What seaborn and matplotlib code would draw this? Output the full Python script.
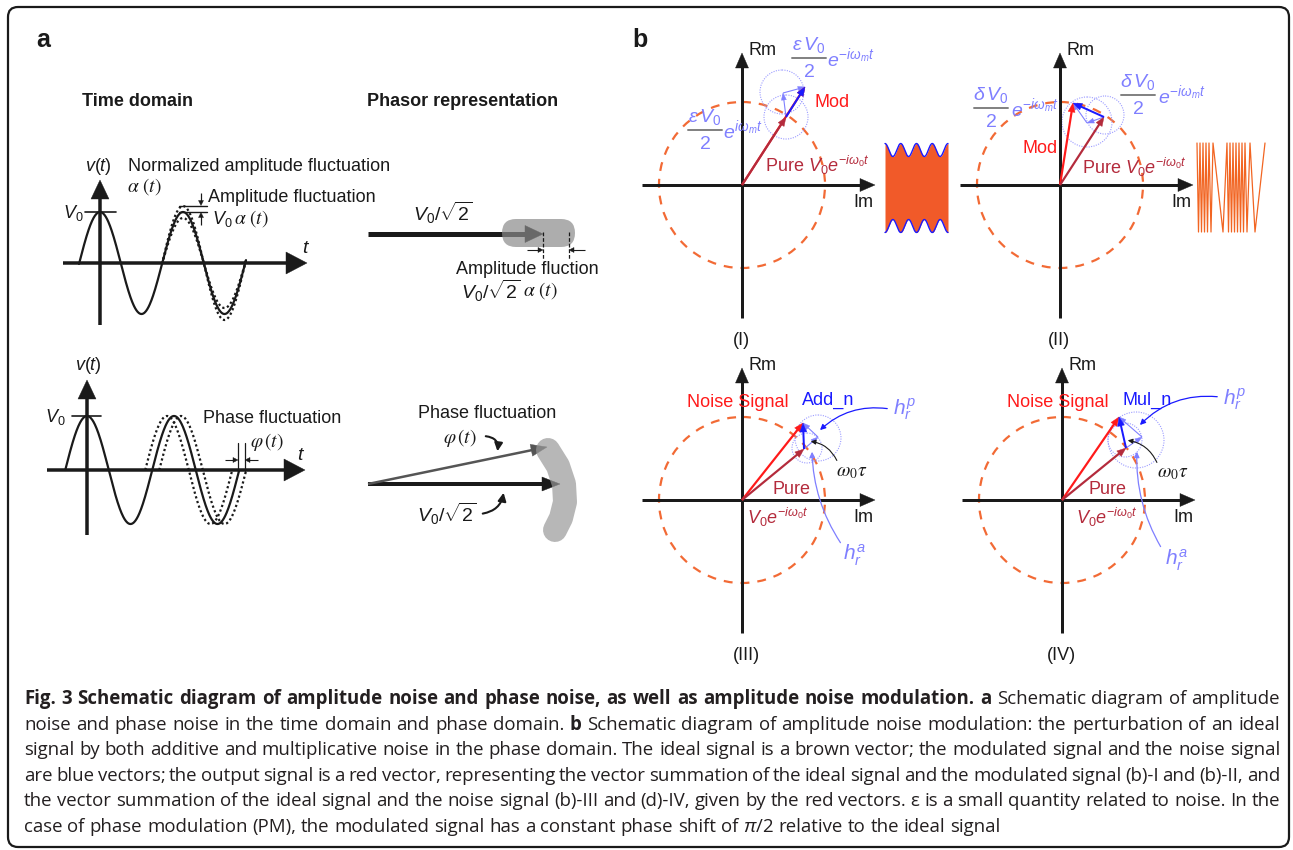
import numpy as np
import matplotlib
matplotlib.use("Agg")
import matplotlib.pyplot as plt
import seaborn as sns
from matplotlib.patches import Circle, Polygon, FancyBboxPatch, FancyArrowPatch

sns.set_theme(style="white")
plt.rcParams["font.family"] = ["Liberation Sans", "DejaVu Sans"]
plt.rcParams["mathtext.fontset"] = "custom"
plt.rcParams["mathtext.rm"] = "Liberation Sans"
plt.rcParams["mathtext.it"] = "Liberation Sans:italic"
plt.rcParams["mathtext.bf"] = "Liberation Sans:bold"

# ---------------- data (schematic, pixel units of the drawing) ----------------
# time-domain waves: [peak x, period, baseline y, amplitude]
wave_amp_params = [100, 83, 263, 51]
wave_amp_range = [79, 246]
wave_amp_dotted_amps = [57, 45]
wave_amp_dotted_range = [162, 246]
wave_phase_params = [87, 87, 470, 54]
wave_phase_range = [65.25, 239.25]
wave_phase_dotted_shifts = [-7, 7]

# phasor diagrams (b): origins and vectors (dx, dy; y up)
phasor_origins = [(742, 185), (1060, 185), (742, 500), (1062, 500)]
circle_radius = 83
pure_vectors = [(44, 68), (44, 68), (62, 51), (64, 52)]
output_vectors = [(63, 98), (13, 82), (61, 77), (57, 83)]
helper_points = [(41, 92), (27, 62), (76, 63), (80, 63)]
dotted_circles = [
    [((44, 68), 22), ((40, 93), 22)],
    [((27, 63), 25), ((45, 70), 19)],
    [((65, 52), 15), ((76, 62), 23)],
    [((63, 60), 17), ((74, 60), 28)],
]
panel_labels = ["(I)", "(II)", "(III)", "(IV)"]

# inset signals
am_wave = [885, 948, 15.75, 6.5, 150, 226]   # x0, x1, period, amp, top y, bottom y
fm_turns = [1197, 1198.5, 1200, 1201.5, 1203, 1204.5, 1206, 1207.5, 1209, 1211, 1213,
            1223, 1227, 1228.5, 1230, 1231.5, 1233, 1234.5, 1236, 1237.5, 1239,
            1240.5, 1242, 1243.5, 1245, 1247, 1250, 1255, 1265]
fm_y = [143, 232]

caption_lines = [
    [("Fig. 3 Schematic diagram of amplitude noise and phase noise, as well as amplitude noise modulation. a", True),
     ("Schematic diagram of amplitude", False)],
    [("noise and phase noise in the time domain and phase domain.", False), ("b", True),
     ("Schematic diagram of amplitude noise modulation: the perturbation of an ideal", False)],
    [("signal by both additive and multiplicative noise in the phase domain. The ideal signal is a brown vector; the modulated signal and the noise signal", False)],
    [("are blue vectors; the output signal is a red vector, representing the vector summation of the ideal signal and the modulated signal (b)-I and (b)-II, and", False)],
    [("the vector summation of the ideal signal and the noise signal (b)-III and (d)-IV, given by the red vectors. \u03b5 is a small quantity related to noise. In the", False)],
    [("case of phase modulation (PM), the modulated signal has a constant phase shift of $\\pi$/2 relative to the ideal signal", False)],
]

# ---------------- colours ----------------
BROWN = "#B42B3C"
RED = "#FF1A1A"
BLUE = "#1A1AFF"
LBLUE = "#7F7FFF"
ORANGE = "#F26A35"
FILL = "#F15A29"

fig = plt.figure(figsize=(12.93, 8.5), dpi=100)
ax = fig.add_axes([0, 0, 1, 1])
ax.set_xlim(0, 1293)
ax.set_ylim(850, 0)
ax.set_axis_off()

PT = 0.72  # points per pixel


def arrow(x0, y0, x1, y1, color="k", lw=3, hl=14, hw=12, z=3, alpha=1):
    dx, dy = x1 - x0, y1 - y0
    L = np.hypot(dx, dy)
    ux, uy = dx / L, dy / L
    bx, by = x1 - ux * hl, y1 - uy * hl
    ax.plot([x0, bx + ux * 1.5], [y0, by + uy * 1.5], color=color, lw=lw * PT,
            solid_capstyle="butt", zorder=z, alpha=alpha)
    px, py = -uy, ux
    ax.add_patch(Polygon([[x1, y1], [bx + px * hw / 2, by + py * hw / 2],
                          [bx - px * hw / 2, by - py * hw / 2]], closed=True,
                         fc=color, ec=color, lw=0.3, zorder=z, alpha=alpha))


def curved(x0, y0, x1, y1, color, rad, lw=1.0, ms=10):
    ax.add_patch(FancyArrowPatch((x0, y0), (x1, y1), connectionstyle=f"arc3,rad={rad}",
                                 arrowstyle="-|>", mutation_scale=ms, lw=lw, color=color,
                                 zorder=4))


def txt(x, y, s, size=13, ha="left", color="k", **kw):
    ax.text(x, y, s, fontsize=size, ha=ha, va="center", color=color, **kw)


def wave(params, x0, x1, amp=None, shift=0.0):
    peak, period, base, a = params
    a = a if amp is None else amp
    x = np.linspace(x0, x1, 400)
    y = base - a * np.cos(2 * np.pi * (x - peak - shift) / period)
    return x, y


# ---------------- border ----------------
ax.add_patch(FancyBboxPatch((8, 7), 1281, 840, boxstyle="round,pad=0,rounding_size=10",
                            fc="none", ec="k", lw=1.6, zorder=1))

# ---------------- panel a ----------------
txt(36, 40, "a", size=18, fontweight="bold")
txt(137, 101, "Time domain", ha="center", fontweight="bold")
txt(463, 101, "Phasor representation", ha="center", fontweight="bold")

# top time-domain plot
arrow(100, 325, 100, 180, lw=3.5, hl=19, hw=18)
arrow(63, 263, 307, 263, lw=3.5, hl=21, hw=22)
x, y = wave(wave_amp_params, *wave_amp_range)
sns.lineplot(x=x, y=y, ax=ax, color="k", lw=1.6, zorder=4)
for a_ in wave_amp_dotted_amps:
    x, y = wave(wave_amp_params, *wave_amp_dotted_range, amp=a_)
    sns.lineplot(x=x, y=y, ax=ax, color="k", lw=1.6, linestyle=(0, (1, 1.2)), zorder=4)
ax.plot([85, 116], [212, 212], color="k", lw=1.2)
txt(84, 213, r"$V_0$", ha="right")
txt(98, 166, r"$v(t)$", ha="center")
txt(128, 166, "Normalized amplitude fluctuation")
txt(127, 187, r"$\alpha\ (t)$", math_fontfamily="stix", size=14)
ax.plot([179, 207], [206, 206], color="k", lw=1)
ax.plot([179, 207], [212, 212], color="k", lw=1)
arrow(201, 193, 201, 205.5, lw=1.2, hl=5, hw=5)
arrow(201, 225, 201, 212.5, lw=1.2, hl=5, hw=5)
txt(208, 197, "Amplitude fluctuation")
txt(212, 219, r"$V_0$")
txt(234, 219, r"$\alpha\ (t)$", math_fontfamily="stix", size=14)
txt(302, 248, r"$t$", size=14)

# bottom time-domain plot
arrow(87, 535, 87, 380, lw=3.5, hl=19, hw=18)
arrow(47, 470, 305, 470, lw=3.5, hl=21, hw=22)
x, y = wave(wave_phase_params, *wave_phase_range)
sns.lineplot(x=x, y=y, ax=ax, color="k", lw=1.6, zorder=4)
for s_ in wave_phase_dotted_shifts:
    x, y = wave(wave_phase_params, 152.25 + s_, 239.25 + s_, shift=s_)
    sns.lineplot(x=x, y=y, ax=ax, color="k", lw=1.6, linestyle=(0, (1, 1.2)), zorder=4)
ax.plot([72, 101], [416, 416], color="k", lw=1.2)
txt(66, 417, r"$V_0$", ha="right")
txt(88, 365, r"$v(t)$", ha="center")
txt(203, 418, "Phase fluctuation")
txt(250, 442, r"$\varphi\,(t)$", math_fontfamily="stix", size=14)
ax.plot([238, 238], [443, 472], color="k", lw=0.9)
ax.plot([245, 245], [443, 472], color="k", lw=0.9)
arrow(225, 460, 238, 460, lw=1.1, hl=5, hw=5)
arrow(258, 460, 245, 460, lw=1.1, hl=5, hw=5)
txt(297, 455, r"$t$", size=14)

# top phasor
arrow(368, 234, 543, 234, lw=5, hl=18, hw=17)
ax.add_patch(FancyBboxPatch((502, 219), 73, 28, boxstyle="round,pad=0,rounding_size=14",
                            fc="#8A8A8A", ec="none", alpha=0.7, zorder=5))
ax.plot([543, 543], [232, 260], color="k", lw=0.9, ls=(0, (3, 1.5)), zorder=6)
ax.plot([569, 569], [232, 260], color="k", lw=0.9, ls=(0, (3, 1.5)), zorder=6)
arrow(527, 250, 543, 250, lw=1.1, hl=5, hw=5)
arrow(585, 250, 569, 250, lw=1.1, hl=5, hw=5)
txt(443, 213, r"$V_0/\sqrt{2}$", ha="center", size=14)
txt(527, 270, "Amplitude fluction", ha="center")
txt(521, 291, r"$V_0/\sqrt{2}$", ha="right", size=14)
txt(523, 291, r"$\alpha\ (t)$", math_fontfamily="stix", size=14)

# bottom phasor
txt(487, 413, "Phase fluctuation", ha="center")
arrow(368, 484, 560, 484, lw=4, hl=18, hw=14)
arrow(368, 484, 547, 447, color="#555555", lw=2.5, hl=16, hw=12)
bx_ = [548, 558, 564, 565, 561, 555]
by_ = [450, 466, 484, 502, 518, 530]
ax.plot(bx_, by_, color="#999999", lw=24 * PT, solid_capstyle="round", alpha=0.7, zorder=5)
txt(460, 438, r"$\varphi\,(t)$", ha="center", math_fontfamily="stix", size=14)
curved(483, 436, 497, 454, "k", -0.6, lw=1.5, ms=12)
txt(447, 514, r"$V_0/\sqrt{2}$", ha="center", size=14)
curved(480, 514, 504, 490, "k", 0.4, lw=1.5, ms=12)

# ---------------- panel b ----------------
txt(632, 40, "b", size=18, fontweight="bold")

for i, (ox, oy) in enumerate(phasor_origins):
    ax.add_patch(Circle((ox, oy), circle_radius, fc="none", ec=ORANGE, lw=1.6,
                        ls=(0, (4, 3.6)), zorder=2))
    arrow(ox, oy + 133, ox, oy - 132, lw=3, hl=15, hw=13)
    arrow(ox - 100, oy, ox + 133, oy, lw=3, hl=15, hw=13)
    txt(ox + 6, oy - 135, "Rm")
    txt(ox + 121, oy + 17, "Im", ha="center")
    txt(ox - 1 + (5 if i == 2 else 0), oy + 155, panel_labels[i], ha="center")
    for (cx, cy), r in dotted_circles[i]:
        ax.add_patch(Circle((ox + cx, oy - cy), r, fc="none", ec="#9C9CFF", lw=0.8,
                            ls=(0, (1, 1.2)), zorder=2))
    p = pure_vectors[i]
    o = output_vectors[i]
    h = helper_points[i]
    arrow(ox + p[0], oy - p[1], ox + h[0], oy - h[1], color=LBLUE, lw=1.1, hl=7, hw=5, z=3)
    arrow(ox + h[0], oy - h[1], ox + o[0], oy - o[1], color=LBLUE, lw=1.1, hl=7, hw=5, z=3)
    arrow(ox, oy, ox + o[0], oy - o[1], color=RED, lw=2.2, hl=9, hw=7, z=4)
    arrow(ox, oy, ox + p[0], oy - p[1], color=BROWN, lw=2.2, hl=9, hw=7, z=5)
    arrow(ox + p[0], oy - p[1], ox + o[0], oy - o[1], color=BLUE, lw=2.0, hl=9, hw=7, z=6)


def frac(xc, yn, num, xe, exp_s, size=14):
    txt(xc, yn, num, ha="center", color=LBLUE, size=size)
    ax.plot([xc - 17, xc + 17], [yn + 13, yn + 13], color="#808080", lw=1.4)
    txt(xc, yn + 27, "2", ha="center", color=LBLUE, size=size)
    txt(xe, yn + 13, exp_s, color=LBLUE, size=size)


# (I)
frac(809, 45, r"$\varepsilon\,V_0$", 827, r"$e^{-i\omega_m t}$")
frac(705, 117, r"$\varepsilon\,V_0$", 723, r"$e^{i\omega_m t}$")
txt(814, 102, "Mod", color=RED)
txt(765, 165, r"Pure $V_0e^{-i\omega_0 t}$", color=BROWN)
xw = np.linspace(am_wave[0], am_wave[1], 200)
top = am_wave[4] - am_wave[3] * np.cos(2 * np.pi * (xw - am_wave[0]) / am_wave[2])
bot = am_wave[5] + am_wave[3] * np.cos(2 * np.pi * (xw - am_wave[0]) / am_wave[2])
ax.fill_between(xw, top, bot, color=FILL, lw=0, zorder=2)
sns.lineplot(x=xw, y=top, ax=ax, color=BLUE, lw=1.0, zorder=3)
sns.lineplot(x=xw, y=bot, ax=ax, color=BLUE, lw=1.0, zorder=3)

# (II)
frac(1138, 82, r"$\delta\,V_0$", 1158, r"$e^{-i\omega_m t}$")
frac(991, 95, r"$\delta\,V_0$", 1011, r"$e^{-i\omega_m t}$")
txt(1023, 148, "Mod", color=RED)
txt(1082, 167, r"Pure $V_0e^{-i\omega_0 t}$", color=BROWN)
fy = [fm_y[k % 2] for k in range(len(fm_turns))]
sns.lineplot(x=fm_turns, y=fy, ax=ax, color="#F26522", lw=0.9, zorder=3, sort=False)

# (III) and (IV)
for (ox, oy), name, nx, hp, om, ha_, ar_p, ar_o, ar_a in [
    ((742, 500), "Add_n", 802, (893, 410), (836, 472), (843, 555),
     (890, 409, 818, 432), (838, 463, 808, 441), (842, 545, 812, 449)),
    ((1062, 500), "Mul_n", 1123, (1223, 400), (1157, 473), (1165, 560),
     (1220, 397, 1138, 427), (1158, 465, 1125, 440), (1162, 549, 1137, 449)),
]:
    txt(ox - 55, 402, "Noise Signal", color=RED)
    txt(nx, 400, name, color=BLUE)
    txt(hp[0], hp[1], r"$h_r^p$", color=LBLUE, size=15)
    txt(om[0], om[1], r"$\omega_0\tau$", math_fontfamily="stix", size=14)
    txt(ha_[0], ha_[1], r"$h_r^a$", color=LBLUE, size=15)
    txt(ox + 50 + (0 if ox == 742 else -5), 489, "Pure", ha="center", color=BROWN)
    txt(ox + 36 + (0 if ox == 742 else 9), 517, r"$V_0e^{-i\omega_0 t}$", ha="center", color=BROWN)
    curved(*ar_p[:2], *ar_p[2:], BLUE, 0.25, lw=0.9, ms=8)
    curved(*ar_o[:2], *ar_o[2:], "k", 0.3, lw=0.8, ms=7)
    curved(*ar_a[:2], *ar_a[2:], LBLUE, -0.15, lw=0.9, ms=8)

# ---------------- caption ----------------
renderer = fig.canvas.get_renderer()
cap_y = [699, 725, 750, 776, 801, 827]
cap_x0, cap_x1 = 24, 1280
last_line_width = 978


def line_words(segs):
    out = []
    for s, b in segs:
        out += [(w, b) for w in s.split(" ") if w]
    return out


def make_words(words, yy, fs):
    objs, widths = [], []
    for w, b in words:
        t = ax.text(0, yy, w, fontsize=fs, fontweight="bold" if b else "normal",
                    family=["Open Sans", "DejaVu Sans"], va="center", ha="left",
                    color="#231F20")
        objs.append(t)
        widths.append(t.get_window_extent(renderer=renderer).width)
    return objs, widths


# scale the caption font so the last (unjustified) line has the reference width
probe_words = line_words(caption_lines[-1])
objs, widths = make_words(probe_words, 0, 10)
natural = sum(widths) + (len(widths) - 1) * 0.26 * 10 / PT
for t in objs:
    t.remove()
FS = 10 * last_line_width / natural

for li, (segs, yy) in enumerate(zip(caption_lines, cap_y)):
    words = line_words(segs)
    objs, widths = make_words(words, yy, FS)
    if li < len(caption_lines) - 1:
        gap = (cap_x1 - cap_x0 - sum(widths)) / (len(words) - 1)
    else:
        gap = 0.26 * FS / PT
    xx = cap_x0
    for t, wd in zip(objs, widths):
        t.set_x(xx)
        xx += wd + gap

fig.savefig("out.png", dpi=100)
